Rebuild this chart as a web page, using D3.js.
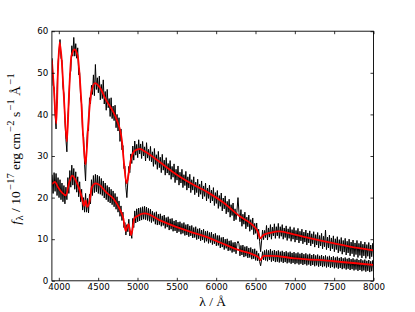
<!DOCTYPE html>
<html>
<head>
<meta charset="utf-8">
<script src="https://cdn.jsdelivr.net/npm/d3@7"></script>
<style>
  body { margin: 0; background: #fff; }
  svg { display: block; }
  .axis text { font-family: "DejaVu Sans", sans-serif; font-size: 8.7px; fill: #000; }
  .axis line { stroke: #000; stroke-width: 0.8px; }
  .axis path { display: none; }
  .axis-label { font-family: "Liberation Serif", serif; font-size: 13.5px; fill: #000; }
</style>
</head>
<body>
<div id="chart"></div>
<script>
var obsStart = 3915;
var obsStep = 12.5;

var upperObs = [
  53.5, 47.0, 46.5, 40.0, 36.5, 46.0, 52.5, 55.0, 58.0, 53.5,
  53.0, 46.5, 45.0, 38.5, 34.0, 31.0, 39.5, 43.0, 49.5, 50.5,
  56.5, 54.0, 58.5, 54.0, 57.0, 53.5, 56.0, 49.5, 50.0, 44.0,
  42.5, 35.5, 34.5, 28.0, 24.0, 32.0, 36.5, 36.0, 44.0, 42.5,
  47.0, 44.8, 49.5, 44.5, 52.0, 46.0, 48.8, 45.2, 49.2, 43.5,
  47.2, 43.8, 48.3, 42.5, 45.5, 41.0, 46.0, 41.6, 43.8, 39.5,
  44.0, 39.0, 42.0, 38.5, 42.2, 36.8, 40.0, 36.0, 39.2, 33.5,
  36.5, 31.5, 32.5, 27.0, 27.5, 22.5, 20.0, 24.0, 27.5, 26.0,
  30.5, 28.2, 32.4, 29.0, 33.6, 30.2, 32.8, 29.6, 33.9, 30.5,
  32.9, 29.4, 33.5, 30.0, 32.2, 28.8, 33.2, 29.5, 31.6, 28.9,
  32.3, 28.6, 31.0, 27.5, 31.8, 28.0, 30.3, 26.8, 31.1, 27.2,
  29.7, 26.0, 30.4, 26.6, 29.0, 25.4, 29.6, 25.9, 28.2, 25.4,
  28.9, 24.4, 27.5, 24.9, 28.1, 23.6, 26.8, 24.2, 27.6, 23.0,
  26.1, 23.5, 26.8, 22.4, 25.5, 22.9, 26.3, 21.8, 25.0, 22.3,
  25.6, 21.2, 24.3, 21.8, 25.0, 20.7, 23.7, 21.2, 24.4, 20.2,
  23.2, 20.8, 24.0, 19.7, 22.8, 20.3, 23.5, 19.2, 22.3, 19.8,
  23.0, 18.7, 21.8, 19.2, 22.4, 18.1, 21.2, 18.6, 21.7, 17.4,
  20.5, 17.9, 21.1, 16.8, 19.9, 17.3, 20.4, 16.1, 19.1, 16.5,
  19.6, 15.3, 18.3, 15.7, 18.7, 14.4, 17.3, 14.7, 17.0, 20.0,
  16.4, 14.2, 17.1, 13.1, 16.0, 13.6, 16.5, 12.5, 15.3, 13.0,
  15.8, 11.9, 14.7, 12.3, 15.1, 11.1, 13.8, 11.4, 13.9, 10.0,
  12.4, 9.5, 7.0, 9.6, 12.2, 9.9, 12.1, 10.4, 13.3, 9.8,
  12.7, 10.5, 13.5, 10.0, 12.9, 10.8, 13.7, 10.2, 13.0, 10.8,
  13.8, 10.2, 13.0, 10.7, 13.5, 10.0, 12.7, 10.4, 13.2, 9.7,
  12.5, 10.2, 13.0, 9.5, 12.3, 10.0, 12.8, 9.3, 12.1, 9.8,
  12.6, 9.1, 11.9, 9.6, 12.4, 8.9, 11.7, 9.3, 12.2, 8.6,
  11.5, 9.1, 12.0, 8.4, 11.3, 8.9, 11.8, 8.1, 11.1, 8.6,
  11.6, 7.9, 10.9, 8.4, 11.4, 7.7, 10.7, 8.2, 12.2, 7.5,
  10.5, 7.9, 11.0, 7.2, 10.3, 7.7, 10.8, 7.0, 10.1, 7.5,
  10.6, 6.7, 9.9, 7.1, 10.4, 6.4, 9.7, 6.9, 10.2, 6.2,
  9.5, 6.7, 10.0, 6.0, 9.3, 6.5, 9.8, 5.8, 9.1, 6.3,
  9.7, 5.6, 9.0, 6.1, 9.5, 5.5, 8.8, 6.0, 9.3, 5.4,
  8.7, 5.9, 9.2, 5.3, 8.6, 5.8, 9.0, 5.5
];

var lowerObs = [
  25.5, 21.0, 26.0, 21.5, 25.8, 20.5, 24.8, 20.0, 24.3, 19.5,
  23.5, 19.0, 22.9, 18.5, 22.5, 19.5, 24.8, 21.0, 26.5, 22.5,
  27.8, 23.0, 27.0, 22.0, 26.2, 21.3, 25.0, 20.2, 23.8, 19.0,
  22.0, 17.0, 20.0, 16.5, 21.0, 16.5, 19.8, 16.3, 20.8, 18.5,
  24.3, 20.5, 25.3, 21.2, 25.6, 21.4, 25.4, 21.0, 25.1, 20.8,
  24.6, 20.5, 24.0, 19.9, 23.5, 19.5, 22.9, 19.0, 22.5, 18.7,
  22.0, 18.3, 21.6, 17.8, 21.0, 17.2, 20.2, 16.5, 19.2, 15.5,
  18.0, 14.5, 16.5, 12.8, 14.0, 11.0, 13.5, 11.8, 14.8, 10.8,
  12.0, 10.2, 15.0, 12.8, 16.8, 13.9, 17.3, 14.2, 17.5, 14.4,
  17.6, 14.6, 17.8, 14.8, 17.9, 14.7, 17.7, 14.5, 17.4, 14.3,
  17.2, 14.0, 16.7, 14.3, 16.4, 13.6, 16.6, 13.4, 16.0, 13.5,
  16.1, 13.1, 15.6, 13.3, 15.8, 12.6, 15.2, 12.9, 15.4, 12.2,
  14.9, 12.4, 15.0, 11.9, 14.4, 12.0, 14.6, 11.5, 14.1, 11.8,
  14.2, 11.2, 13.8, 11.4, 14.0, 10.9, 13.5, 11.0, 13.6, 10.6,
  13.2, 10.8, 13.3, 10.3, 12.8, 10.4, 13.0, 9.9, 12.5, 10.1,
  12.6, 9.6, 12.2, 9.8, 12.4, 9.2, 11.9, 9.5, 12.0, 9.0,
  11.6, 9.2, 11.7, 8.7, 11.2, 8.9, 11.4, 8.4, 10.9, 8.5,
  10.9, 7.9, 10.4, 8.1, 10.5, 7.5, 10.0, 7.8, 10.1, 7.2,
  9.6, 7.3, 9.7, 6.8, 9.2, 7.0, 9.3, 6.5, 8.9, 9.5,
  8.9, 6.0, 8.5, 6.2, 8.6, 5.7, 8.2, 5.9, 8.3, 5.5,
  7.9, 5.6, 8.0, 5.2, 7.6, 5.3, 7.7, 4.9, 7.2, 4.8,
  6.6, 4.6, 3.6, 5.0, 7.0, 5.0, 7.3, 4.9, 7.5, 4.7,
  7.3, 5.0, 7.6, 4.6, 7.2, 4.8, 7.4, 4.5, 7.1, 4.6,
  7.3, 4.4, 7.0, 4.6, 7.2, 4.3, 6.9, 4.5, 7.1, 4.2,
  6.8, 4.4, 7.0, 4.1, 6.7, 4.3, 6.9, 4.0, 6.6, 4.2,
  6.8, 3.9, 6.5, 4.1, 6.7, 3.8, 6.4, 4.0, 6.6, 3.7,
  6.3, 3.9, 6.5, 3.6, 6.2, 3.8, 6.4, 3.5, 6.1, 3.7,
  6.3, 3.4, 6.0, 3.6, 6.2, 3.3, 5.9, 3.5, 6.1, 3.2,
  5.8, 3.4, 6.0, 3.1, 5.7, 3.3, 5.9, 3.0, 5.6, 3.2,
  5.8, 2.9, 5.5, 3.1, 5.7, 2.8, 5.4, 3.0, 5.6, 2.7,
  5.3, 2.9, 5.5, 2.6, 5.2, 2.8, 5.4, 2.5, 5.1, 2.7,
  5.3, 2.4, 5.0, 2.6, 5.2, 2.3, 4.9, 2.5, 5.1, 2.2,
  4.8, 2.4, 5.0, 2.1, 4.7, 2.3, 4.9, 2.2
];

// model fits (red)
var upperModelWave = [3912, 3935, 3968, 3988, 4010, 4035, 4065, 4102, 4130, 4160,
  4200, 4240, 4280, 4315, 4340, 4375, 4410, 4460, 4520, 4600,
  4680, 4740, 4800, 4830, 4861, 4890, 4920, 4970, 5030, 5100,
  5300, 5500, 5700, 5900, 6100, 6300, 6450, 6530, 6563, 6600,
  6700, 6800, 7000, 7200, 7500, 7800, 8000];
var upperModelFlux = [53, 47, 37.8, 50, 57.3, 53.5, 44, 33.5, 45, 54,
  55.6, 54, 45, 33, 28, 37.9, 45, 47.5, 46.5, 43.5,
  41, 38.5, 34, 28, 23.4, 26, 29.5, 31.3, 31.7, 31,
  28.3, 25.5, 23.2, 21.2, 18.7, 15.5, 13.6, 11.8, 10.2, 11.0,
  11.6, 11.9, 11.1, 10.2, 9.0, 7.9, 7.3];

var lowerModelWave = [3912, 3950, 3990, 4040, 4090, 4130, 4170, 4230, 4270, 4300,
  4320, 4340, 4360, 4390, 4420, 4470, 4520, 4600, 4700, 4770,
  4820, 4850, 4885, 4920, 4960, 5000, 5090, 5300, 5500, 5700,
  5900, 6050, 6300, 6470, 6540, 6563, 6600, 6700, 7000, 7500,
  8000];
var lowerModelFlux = [23.2, 23.8, 22.5, 21.2, 20.5, 23.5, 25.3, 23.5, 21.5, 19.5,
  18.0, 19.3, 17.8, 19.0, 22.5, 23.4, 23.0, 21.3, 19.6, 17.4,
  15.0, 12.0, 13.6, 11.0, 15.0, 15.6, 16.2, 14.4, 12.9, 11.6,
  10.4, 9.2, 7.3, 6.3, 5.6, 5.0, 6.0, 6.0, 5.4, 4.7,
  3.8];

var xTicks = [4000, 4500, 5000, 5500, 6000, 6500, 7000, 7500, 8000];
var yTicks = [0, 10, 20, 30, 40, 50, 60];

(function() {
  var margin = {top: 31.2, right: 41.5, bottom: 31.2, left: 51.9}
  var width = 415 - margin.left - margin.right
  var height = 312 - margin.top - margin.bottom

  var xPositionScale = d3.scaleLinear().domain([3912, 8000]).range([0, width])
  var yPositionScale = d3.scaleLinear().domain([0, 60]).range([height, 0])

  var root = d3.select("#chart")
    .append('svg')
    .attr('width', 415)
    .attr('height', 312)

  var svg = root.append("g")
    .attr("transform", "translate(" + margin.left + "," + margin.top + ")")

  svg.append('clipPath')
    .attr('id', 'plot-clip')
    .append('rect')
    .attr('width', width)
    .attr('height', height)

  var toPoints = function(values) {
    return values.map((f, i) => ({ wave: obsStart + i * obsStep, flux: f }))
  }
  var zipModel = function(waves, fluxes) {
    return waves.map((w, i) => ({ wave: w, flux: fluxes[i] }))
  }

  var obsLine = d3.line()
    .x(d => xPositionScale(d.wave))
    .y(d => yPositionScale(d.flux))

  var modelLine = d3.line()
    .x(d => xPositionScale(d.wave))
    .y(d => yPositionScale(d.flux))
    .curve(d3.curveMonotoneX)

  var lines = svg.append('g').attr('clip-path', 'url(#plot-clip)')

  lines.selectAll('.obs')
    .data([toPoints(upperObs), toPoints(lowerObs)])
    .enter().append('path')
    .attr('class', 'obs')
    .attr('d', obsLine)
    .attr('fill', 'none')
    .attr('stroke', '#000')
    .attr('stroke-width', 1)

  lines.selectAll('.model')
    .data([zipModel(upperModelWave, upperModelFlux), zipModel(lowerModelWave, lowerModelFlux)])
    .enter().append('path')
    .attr('class', 'model')
    .attr('d', modelLine)
    .attr('fill', 'none')
    .attr('stroke', '#ff0000')
    .attr('stroke-width', 1.8)

  // ticks point inward on all four sides, like matplotlib
  var xAxis = d3.axisBottom(xPositionScale)
    .tickValues(xTicks)
    .tickFormat(d3.format('d'))
    .tickSizeInner(-3).tickSizeOuter(0).tickPadding(3.5)
  svg.append("g")
    .attr("class", "axis axis-x")
    .attr("transform", "translate(0," + height + ")")
    .call(xAxis)

  svg.append("g")
    .attr("class", "axis axis-x-top")
    .call(d3.axisTop(xPositionScale).tickValues(xTicks).tickSizeInner(-3).tickSizeOuter(0).tickFormat(""))

  var yAxis = d3.axisLeft(yPositionScale)
    .tickValues(yTicks)
    .tickFormat(d3.format('d'))
    .tickSizeInner(-3).tickSizeOuter(0).tickPadding(3.5)
  svg.append("g")
    .attr("class", "axis axis-y")
    .call(yAxis)

  svg.append("g")
    .attr("class", "axis axis-y-right")
    .attr("transform", "translate(" + width + ",0)")
    .call(d3.axisRight(yPositionScale).tickValues(yTicks).tickSizeInner(-3).tickSizeOuter(0).tickFormat(""))

  svg.append('rect')
    .attr('width', width)
    .attr('height', height)
    .attr('fill', 'none')
    .attr('stroke', '#000')
    .attr('stroke-width', 0.9)

  // x label
  root.append('text')
    .attr('class', 'axis-label')
    .attr('x', margin.left + width / 2)
    .attr('y', 306)
    .attr('text-anchor', 'middle')
    .text('λ / Å')

  // y label, built from pieces so the sub/superscripts sit right
  var yLabel = root.append('text')
    .attr('class', 'axis-label')
    .attr('text-anchor', 'middle')
    .attr('font-size', '14.8px')
    .attr('transform', 'translate(20,' + (margin.top + height / 2 - 7) + ') rotate(-90)')

  var pieces = [
    {t: 'f', style: 'italic'},
    {t: 'λ', sub: true},
    {t: ' / 10'},
    {t: '−17', sup: true},
    {t: ' erg cm'},
    {t: '−2', sup: true},
    {t: ' s'},
    {t: '−1', sup: true},
    {t: ' Å'},
    {t: '−1', sup: true}
  ]
  var shift = 0
  pieces.forEach(p => {
    var target = p.sup ? -6 : (p.sub ? 3 : 0)
    yLabel.append('tspan')
      .attr('dy', target - shift)
      .attr('dx', p.sup ? 1.5 : (p.sub ? 0.5 : null))
      .attr('font-size', (p.sup || p.sub) ? '10.5px' : null)
      .attr('font-style', p.style || null)
      .text(p.t)
    shift = target
  })
})()
</script>
</body>
</html>
